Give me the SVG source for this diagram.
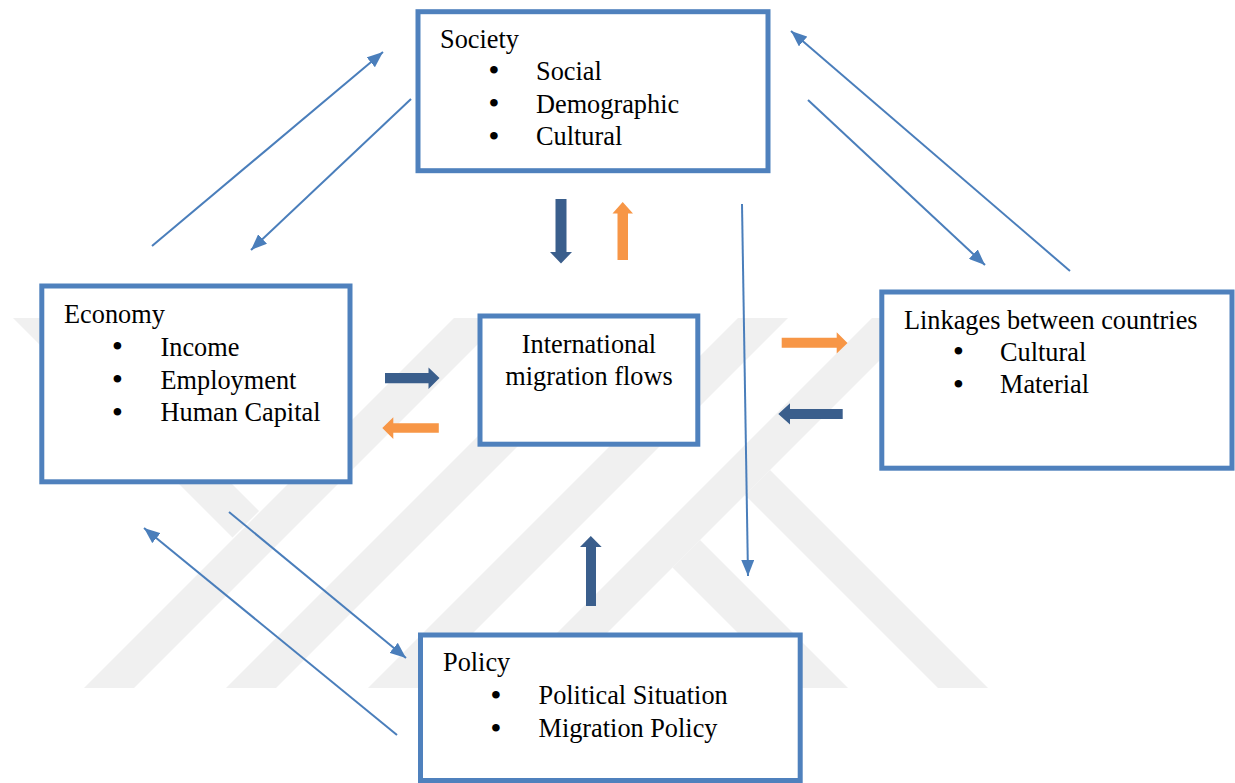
<svg xmlns="http://www.w3.org/2000/svg" width="1235" height="783" viewBox="0 0 1235 783">
  <style>
    .box { fill: #ffffff; stroke: #4F81BD; stroke-width: 5; }
    .t { font-family: "Liberation Serif", "Times New Roman", serif; font-size: 26.3px; fill: #000000; }
    .b { font-family: "Liberation Serif", "Times New Roman", serif; font-size: 28px; font-weight: bold; fill: #000000; text-anchor: middle; }
    .thin { stroke: #4A7EBB; stroke-width: 2; fill: none; marker-end: url(#ah); }
    .dark { fill: #3A5E8C; }
    .orange { fill: #F79646; }
    .wm { fill: #F0F0F0; }
  </style>
  <defs>
    <marker id="ah" markerUnits="userSpaceOnUse" markerWidth="17" markerHeight="13" refX="16" refY="6.5" orient="auto">
      <path d="M0,0 L16,6.5 L0,13 z" fill="#4A7EBB"/>
    </marker>
  </defs>
  <rect width="1235" height="783" fill="#ffffff"/>

  <g id="watermark">
    <polygon class="wm" points="13,318 66,318 259,511 232.5,537.5"/>
    <polygon class="wm" points="84,688 134,688 504,318 454,318"/>
    <polygon class="wm" points="226,688 276,688 646,318 596,318"/>
    <polygon class="wm" points="368,688 418,688 788,318 738,318"/>
    <polygon class="wm" points="502,688 552,688 922,318 872,318"/>
    <polygon class="wm" points="672.5,567.5 700,540 848,688 793,688"/>
    <polygon class="wm" points="745,495 770,470 988,688 938,688"/>
  </g>

  <g id="connectors">
    <line class="thin" x1="152" y1="246" x2="383" y2="52"/>
    <line class="thin" x1="411" y1="99" x2="251" y2="250"/>
    <line class="thin" x1="1070" y1="271" x2="791" y2="31"/>
    <line class="thin" x1="808" y1="100" x2="985" y2="265"/>
    <line class="thin" x1="742" y1="204" x2="748" y2="576"/>
    <line class="thin" x1="229" y1="512" x2="406" y2="658"/>
    <line class="thin" x1="397" y1="735" x2="144" y2="528"/>

    <polygon class="dark" points="555.5,199 566.5,199 566.5,252 572,252 561,263.5 550,252 555.5,252"/>
    <polygon class="orange" points="617.5,260 628,260 628,213.5 633,213.5 622.7,202 612.5,213.5 617.5,213.5"/>
    <polygon class="dark" points="385,373 428.5,373 428.5,367.5 439.5,378 428.5,389 428.5,383.3 385,383.3"/>
    <polygon class="orange" points="438.8,423.3 393.3,423.3 393.3,417.3 382.3,428 393.3,439 393.3,432.7 438.8,432.7"/>
    <polygon class="orange" points="781.7,337.8 836.7,337.8 836.7,332.3 847.5,343 836.7,353.5 836.7,347.8 781.7,347.8"/>
    <polygon class="dark" points="842.7,409 790,409 790,403.3 778.3,414 790,424.5 790,419 842.7,419"/>
    <polygon class="dark" points="586,606 596,606 596,547 601.7,547 590.8,536 580,547 586,547"/>
  </g>

  <g id="society">
    <rect class="box" x="418" y="11.7" width="350" height="159"/>
    <text class="t" x="440" y="47.7">Society</text>
    <text class="b" x="494" y="79.3">•</text>
    <text class="t" x="536" y="79.5">Social</text>
    <text class="b" x="494" y="112.3">•</text>
    <text class="t" x="536" y="112.5">Demographic</text>
    <text class="b" x="494" y="145.3">•</text>
    <text class="t" x="536" y="145">Cultural</text>
  </g>

  <g id="economy">
    <rect class="box" x="41.8" y="286" width="308.2" height="195.8"/>
    <text class="t" x="64" y="323.3">Economy</text>
    <text class="b" x="117.3" y="355.3">•</text>
    <text class="t" x="160.5" y="355.7">Income</text>
    <text class="b" x="117.3" y="388.3">•</text>
    <text class="t" x="160.5" y="388.5">Employment</text>
    <text class="b" x="117.3" y="421.3">•</text>
    <text class="t" x="160.5" y="421">Human Capital</text>
  </g>

  <g id="international">
    <rect class="box" x="480" y="316" width="217.8" height="128.2"/>
    <text class="t" x="589" y="353.3" text-anchor="middle">International</text>
    <text class="t" x="589" y="384.5" text-anchor="middle">migration flows</text>
  </g>

  <g id="linkages">
    <rect class="box" x="881.8" y="292" width="350.2" height="176.2"/>
    <text class="t" x="904" y="328.5">Linkages between countries</text>
    <text class="b" x="958.3" y="360.3">•</text>
    <text class="t" x="1000" y="360.5">Cultural</text>
    <text class="b" x="958.3" y="393.3">•</text>
    <text class="t" x="1000" y="393.3">Material</text>
  </g>

  <g id="policy">
    <rect class="box" x="420.5" y="635" width="379.7" height="145.5"/>
    <text class="t" x="443" y="670.5">Policy</text>
    <text class="b" x="496" y="703.8">•</text>
    <text class="t" x="538.5" y="704">Political Situation</text>
    <text class="b" x="496" y="736.8">•</text>
    <text class="t" x="538.5" y="737">Migration Policy</text>
  </g>
</svg>
